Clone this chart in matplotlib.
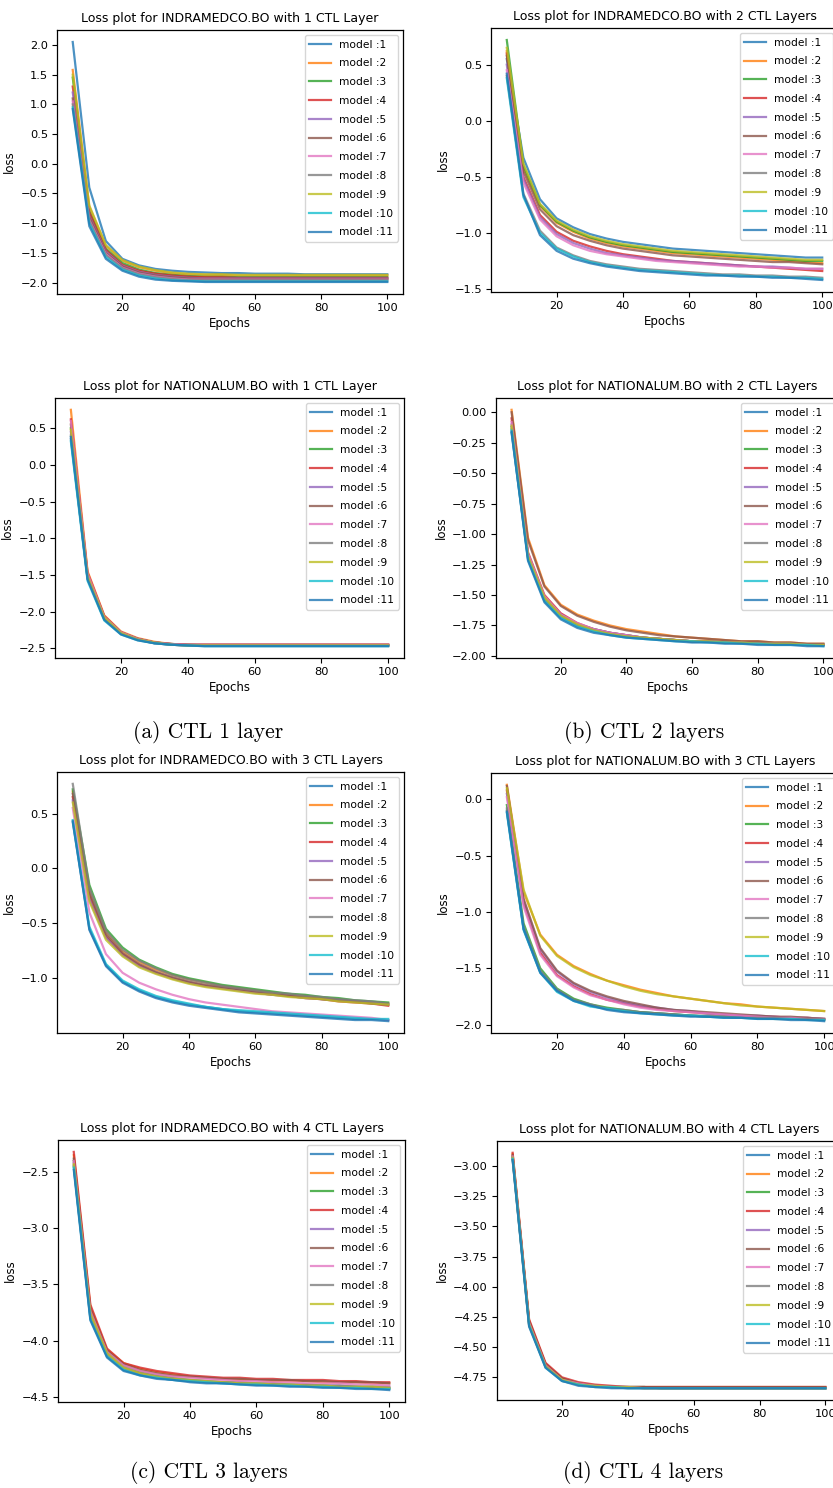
import matplotlib
matplotlib.use("Agg")
import matplotlib.pyplot as plt

W, H = 833, 1488
DPI = 100

epochs = [5, 10, 15, 20, 25, 30, 35, 40, 45, 50, 55, 60, 65, 70, 75, 80, 85, 90, 95, 100]
model_labels = ["model :1", "model :2", "model :3", "model :4", "model :5", "model :6",
                "model :7", "model :8", "model :9", "model :10", "model :11"]

titles = [
    "Loss plot for INDRAMEDCO.BO with 1 CTL Layer",
    "Loss plot for INDRAMEDCO.BO with 2 CTL Layers",
    "Loss plot for NATIONALUM.BO with 1 CTL Layer",
    "Loss plot for NATIONALUM.BO with 2 CTL Layers",
    "Loss plot for INDRAMEDCO.BO with 3 CTL Layers",
    "Loss plot for NATIONALUM.BO with 3 CTL Layers",
    "Loss plot for INDRAMEDCO.BO with 4 CTL Layers",
    "Loss plot for NATIONALUM.BO with 4 CTL Layers",
]
captions = ["(a) CTL 1 layer", "(b) CTL 2 layers", "(c) CTL 3 layers", "(d) CTL 4 layers"]

ind_1 = [
    [2.05, -0.40, -1.30, -1.60, -1.71, -1.77, -1.80, -1.82, -1.83, -1.84, -1.84, -1.85, -1.85, -1.85, -1.86, -1.86, -1.86, -1.86, -1.86, -1.86],
    [1.58, -0.72, -1.38, -1.63, -1.74, -1.80, -1.84, -1.86, -1.87, -1.87, -1.88, -1.88, -1.88, -1.88, -1.88, -1.88, -1.88, -1.88, -1.88, -1.88],
    [1.45, -0.80, -1.43, -1.67, -1.78, -1.84, -1.87, -1.89, -1.90, -1.90, -1.91, -1.91, -1.91, -1.91, -1.91, -1.91, -1.91, -1.91, -1.91, -1.91],
    [1.30, -0.82, -1.45, -1.70, -1.80, -1.85, -1.88, -1.90, -1.91, -1.91, -1.92, -1.92, -1.92, -1.92, -1.92, -1.92, -1.92, -1.92, -1.92, -1.92],
    [1.20, -0.88, -1.48, -1.72, -1.82, -1.87, -1.90, -1.92, -1.93, -1.93, -1.93, -1.93, -1.93, -1.93, -1.93, -1.93, -1.93, -1.93, -1.93, -1.93],
    [1.10, -0.90, -1.50, -1.73, -1.83, -1.88, -1.91, -1.93, -1.94, -1.94, -1.94, -1.94, -1.94, -1.94, -1.94, -1.94, -1.94, -1.94, -1.94, -1.94],
    [1.05, -0.95, -1.52, -1.75, -1.85, -1.90, -1.93, -1.95, -1.95, -1.95, -1.95, -1.95, -1.95, -1.95, -1.95, -1.95, -1.95, -1.95, -1.95, -1.95],
    [1.00, -0.97, -1.54, -1.76, -1.86, -1.91, -1.94, -1.96, -1.96, -1.96, -1.96, -1.96, -1.96, -1.96, -1.96, -1.96, -1.96, -1.96, -1.96, -1.96],
    [1.50, -0.70, -1.37, -1.62, -1.73, -1.79, -1.83, -1.85, -1.86, -1.86, -1.87, -1.87, -1.87, -1.87, -1.87, -1.87, -1.87, -1.87, -1.87, -1.87],
    [0.95, -1.00, -1.57, -1.78, -1.88, -1.93, -1.96, -1.97, -1.98, -1.98, -1.98, -1.98, -1.98, -1.98, -1.98, -1.98, -1.98, -1.98, -1.98, -1.98],
    [0.92, -1.05, -1.60, -1.80, -1.90, -1.95, -1.97, -1.98, -1.99, -1.99, -1.99, -1.99, -1.99, -1.99, -1.99, -1.99, -1.99, -1.99, -1.99, -1.99],
]

ind_2 = [
    [0.55, -0.33, -0.70, -0.87, -0.95, -1.01, -1.05, -1.08, -1.10, -1.12, -1.14, -1.15, -1.16, -1.17, -1.18, -1.19, -1.20, -1.21, -1.22, -1.22],
    [0.62, -0.42, -0.76, -0.91, -0.99, -1.05, -1.09, -1.12, -1.14, -1.16, -1.18, -1.19, -1.20, -1.21, -1.22, -1.23, -1.24, -1.25, -1.26, -1.27],
    [0.72, -0.40, -0.75, -0.90, -0.98, -1.04, -1.08, -1.11, -1.13, -1.15, -1.17, -1.18, -1.19, -1.20, -1.21, -1.22, -1.23, -1.24, -1.25, -1.25],
    [0.60, -0.50, -0.84, -0.99, -1.07, -1.12, -1.16, -1.19, -1.21, -1.23, -1.25, -1.26, -1.27, -1.28, -1.29, -1.30, -1.31, -1.32, -1.33, -1.34],
    [0.50, -0.52, -0.86, -1.01, -1.09, -1.14, -1.18, -1.20, -1.22, -1.24, -1.25, -1.26, -1.27, -1.28, -1.29, -1.30, -1.30, -1.31, -1.32, -1.32],
    [0.58, -0.45, -0.79, -0.94, -1.02, -1.07, -1.11, -1.14, -1.16, -1.18, -1.20, -1.21, -1.22, -1.23, -1.24, -1.25, -1.26, -1.26, -1.27, -1.28],
    [0.45, -0.55, -0.88, -1.03, -1.11, -1.16, -1.19, -1.21, -1.23, -1.25, -1.26, -1.27, -1.28, -1.29, -1.30, -1.30, -1.31, -1.31, -1.32, -1.32],
    [0.40, -0.65, -0.98, -1.13, -1.20, -1.25, -1.28, -1.30, -1.32, -1.33, -1.34, -1.35, -1.36, -1.37, -1.37, -1.38, -1.38, -1.39, -1.39, -1.40],
    [0.65, -0.38, -0.74, -0.89, -0.97, -1.03, -1.07, -1.10, -1.12, -1.14, -1.16, -1.17, -1.18, -1.19, -1.20, -1.21, -1.22, -1.23, -1.24, -1.24],
    [0.38, -0.68, -1.00, -1.14, -1.21, -1.26, -1.29, -1.31, -1.33, -1.34, -1.35, -1.36, -1.37, -1.38, -1.38, -1.39, -1.39, -1.40, -1.40, -1.41],
    [0.42, -0.66, -1.02, -1.16, -1.23, -1.27, -1.30, -1.32, -1.34, -1.35, -1.36, -1.37, -1.38, -1.38, -1.39, -1.39, -1.40, -1.40, -1.41, -1.42],
]

nat_1 = [
    [0.35, -1.55, -2.10, -2.30, -2.38, -2.43, -2.45, -2.46, -2.46, -2.46, -2.46, -2.46, -2.46, -2.46, -2.46, -2.46, -2.46, -2.46, -2.46, -2.46],
    [0.75, -1.45, -2.05, -2.27, -2.36, -2.41, -2.44, -2.45, -2.45, -2.45, -2.45, -2.45, -2.45, -2.45, -2.45, -2.45, -2.45, -2.45, -2.45, -2.45],
    [0.50, -1.52, -2.08, -2.29, -2.37, -2.42, -2.44, -2.45, -2.46, -2.46, -2.46, -2.46, -2.46, -2.46, -2.46, -2.46, -2.46, -2.46, -2.46, -2.46],
    [0.62, -1.47, -2.06, -2.28, -2.37, -2.42, -2.44, -2.45, -2.45, -2.45, -2.45, -2.45, -2.45, -2.45, -2.45, -2.45, -2.45, -2.45, -2.45, -2.45],
    [0.45, -1.53, -2.09, -2.29, -2.38, -2.42, -2.45, -2.46, -2.46, -2.46, -2.46, -2.46, -2.46, -2.46, -2.46, -2.46, -2.46, -2.46, -2.46, -2.46],
    [0.55, -1.50, -2.07, -2.28, -2.37, -2.42, -2.44, -2.45, -2.45, -2.45, -2.45, -2.45, -2.45, -2.45, -2.45, -2.45, -2.45, -2.45, -2.45, -2.45],
    [0.60, -1.48, -2.07, -2.28, -2.37, -2.42, -2.44, -2.45, -2.45, -2.45, -2.45, -2.45, -2.45, -2.45, -2.45, -2.45, -2.45, -2.45, -2.45, -2.45],
    [0.40, -1.55, -2.10, -2.30, -2.38, -2.43, -2.45, -2.46, -2.46, -2.46, -2.46, -2.46, -2.46, -2.46, -2.46, -2.46, -2.46, -2.46, -2.46, -2.46],
    [0.48, -1.52, -2.08, -2.29, -2.38, -2.42, -2.45, -2.46, -2.46, -2.46, -2.46, -2.46, -2.46, -2.46, -2.46, -2.46, -2.46, -2.46, -2.46, -2.46],
    [0.32, -1.58, -2.12, -2.31, -2.39, -2.43, -2.45, -2.46, -2.47, -2.47, -2.47, -2.47, -2.47, -2.47, -2.47, -2.47, -2.47, -2.47, -2.47, -2.47],
    [0.38, -1.56, -2.11, -2.31, -2.39, -2.43, -2.45, -2.46, -2.47, -2.47, -2.47, -2.47, -2.47, -2.47, -2.47, -2.47, -2.47, -2.47, -2.47, -2.47],
]

nat_2 = [
    [-0.17, -1.20, -1.54, -1.68, -1.75, -1.79, -1.82, -1.84, -1.85, -1.86, -1.87, -1.88, -1.88, -1.89, -1.89, -1.90, -1.90, -1.90, -1.91, -1.91],
    [0.02, -1.03, -1.42, -1.58, -1.66, -1.71, -1.75, -1.78, -1.80, -1.82, -1.84, -1.85, -1.86, -1.87, -1.88, -1.88, -1.89, -1.89, -1.90, -1.90],
    [-0.12, -1.18, -1.52, -1.66, -1.74, -1.78, -1.81, -1.83, -1.85, -1.86, -1.87, -1.88, -1.88, -1.89, -1.89, -1.90, -1.90, -1.90, -1.91, -1.91],
    [-0.05, -1.15, -1.50, -1.65, -1.73, -1.78, -1.81, -1.83, -1.85, -1.86, -1.87, -1.88, -1.88, -1.89, -1.89, -1.90, -1.90, -1.90, -1.91, -1.91],
    [-0.10, -1.17, -1.52, -1.66, -1.74, -1.78, -1.81, -1.83, -1.85, -1.86, -1.87, -1.88, -1.88, -1.89, -1.89, -1.90, -1.90, -1.90, -1.91, -1.91],
    [0.00, -1.05, -1.43, -1.59, -1.67, -1.72, -1.76, -1.79, -1.81, -1.83, -1.84, -1.85, -1.86, -1.87, -1.88, -1.88, -1.89, -1.89, -1.90, -1.90],
    [-0.08, -1.16, -1.51, -1.66, -1.73, -1.78, -1.81, -1.83, -1.85, -1.86, -1.87, -1.88, -1.88, -1.89, -1.89, -1.90, -1.90, -1.90, -1.91, -1.91],
    [-0.14, -1.19, -1.53, -1.67, -1.75, -1.79, -1.82, -1.84, -1.85, -1.86, -1.87, -1.88, -1.88, -1.89, -1.89, -1.90, -1.90, -1.90, -1.91, -1.91],
    [-0.11, -1.18, -1.52, -1.67, -1.74, -1.79, -1.82, -1.84, -1.85, -1.86, -1.87, -1.88, -1.88, -1.89, -1.89, -1.90, -1.90, -1.90, -1.91, -1.91],
    [-0.15, -1.21, -1.55, -1.69, -1.76, -1.80, -1.83, -1.85, -1.86, -1.87, -1.88, -1.88, -1.89, -1.89, -1.90, -1.90, -1.91, -1.91, -1.91, -1.92],
    [-0.16, -1.22, -1.56, -1.70, -1.77, -1.81, -1.83, -1.85, -1.86, -1.87, -1.88, -1.89, -1.89, -1.90, -1.90, -1.91, -1.91, -1.91, -1.92, -1.92],
]

ind_3 = [
    [0.42, -0.55, -0.88, -1.03, -1.11, -1.17, -1.21, -1.24, -1.26, -1.28, -1.30, -1.31, -1.32, -1.33, -1.34, -1.35, -1.36, -1.37, -1.37, -1.38],
    [0.70, -0.20, -0.58, -0.75, -0.85, -0.92, -0.97, -1.01, -1.04, -1.07, -1.09, -1.11, -1.13, -1.15, -1.16, -1.18, -1.19, -1.21, -1.22, -1.23],
    [0.72, -0.15, -0.55, -0.72, -0.83, -0.90, -0.96, -1.00, -1.03, -1.06, -1.08, -1.10, -1.12, -1.14, -1.15, -1.17, -1.18, -1.20, -1.21, -1.22],
    [0.65, -0.25, -0.62, -0.78, -0.88, -0.95, -1.00, -1.04, -1.07, -1.09, -1.11, -1.13, -1.15, -1.16, -1.18, -1.19, -1.21, -1.22, -1.23, -1.25],
    [0.62, -0.28, -0.63, -0.79, -0.89, -0.95, -1.00, -1.04, -1.07, -1.09, -1.11, -1.13, -1.15, -1.16, -1.18, -1.19, -1.20, -1.21, -1.22, -1.24],
    [0.68, -0.22, -0.60, -0.77, -0.87, -0.94, -0.99, -1.03, -1.06, -1.08, -1.10, -1.12, -1.14, -1.16, -1.17, -1.19, -1.20, -1.21, -1.23, -1.24],
    [0.55, -0.40, -0.78, -0.95, -1.04, -1.10, -1.15, -1.19, -1.22, -1.24, -1.26, -1.28, -1.30, -1.31, -1.32, -1.33, -1.34, -1.35, -1.36, -1.38],
    [0.77, -0.18, -0.57, -0.74, -0.84, -0.91, -0.97, -1.01, -1.04, -1.07, -1.09, -1.11, -1.13, -1.14, -1.16, -1.17, -1.19, -1.20, -1.21, -1.23],
    [0.60, -0.30, -0.65, -0.80, -0.90, -0.96, -1.01, -1.05, -1.08, -1.10, -1.12, -1.14, -1.15, -1.17, -1.18, -1.19, -1.21, -1.22, -1.23, -1.24],
    [0.44, -0.53, -0.87, -1.02, -1.10, -1.16, -1.20, -1.23, -1.26, -1.28, -1.29, -1.30, -1.31, -1.32, -1.33, -1.34, -1.35, -1.36, -1.37, -1.37],
    [0.43, -0.56, -0.89, -1.04, -1.12, -1.18, -1.22, -1.25, -1.27, -1.29, -1.31, -1.32, -1.33, -1.34, -1.35, -1.36, -1.37, -1.38, -1.38, -1.39],
]

nat_3 = [
    [-0.10, -1.15, -1.53, -1.70, -1.78, -1.83, -1.86, -1.88, -1.89, -1.90, -1.91, -1.92, -1.93, -1.93, -1.94, -1.94, -1.95, -1.95, -1.95, -1.96],
    [0.13, -0.82, -1.20, -1.38, -1.48, -1.55, -1.61, -1.65, -1.69, -1.72, -1.75, -1.77, -1.79, -1.81, -1.82, -1.84, -1.85, -1.86, -1.87, -1.88],
    [-0.05, -1.10, -1.50, -1.68, -1.77, -1.82, -1.85, -1.87, -1.89, -1.90, -1.91, -1.92, -1.93, -1.93, -1.94, -1.94, -1.95, -1.95, -1.95, -1.96],
    [0.08, -0.92, -1.36, -1.56, -1.66, -1.73, -1.78, -1.81, -1.84, -1.86, -1.88, -1.89, -1.90, -1.91, -1.92, -1.93, -1.93, -1.94, -1.94, -1.95],
    [0.05, -0.90, -1.33, -1.53, -1.64, -1.71, -1.76, -1.80, -1.83, -1.85, -1.87, -1.88, -1.90, -1.91, -1.92, -1.92, -1.93, -1.94, -1.94, -1.95],
    [0.12, -0.88, -1.32, -1.52, -1.63, -1.70, -1.75, -1.79, -1.82, -1.85, -1.87, -1.88, -1.89, -1.90, -1.91, -1.92, -1.93, -1.93, -1.94, -1.95],
    [0.02, -0.95, -1.38, -1.57, -1.67, -1.74, -1.78, -1.82, -1.85, -1.87, -1.88, -1.89, -1.90, -1.91, -1.92, -1.93, -1.94, -1.94, -1.95, -1.95],
    [-0.08, -1.13, -1.52, -1.69, -1.78, -1.82, -1.86, -1.87, -1.89, -1.90, -1.91, -1.92, -1.92, -1.93, -1.94, -1.94, -1.94, -1.95, -1.95, -1.95],
    [0.10, -0.80, -1.21, -1.39, -1.49, -1.56, -1.61, -1.66, -1.70, -1.73, -1.75, -1.77, -1.79, -1.81, -1.83, -1.84, -1.85, -1.86, -1.87, -1.88],
    [-0.12, -1.16, -1.54, -1.71, -1.79, -1.84, -1.86, -1.88, -1.90, -1.91, -1.92, -1.92, -1.93, -1.94, -1.94, -1.95, -1.95, -1.95, -1.96, -1.96],
    [-0.11, -1.15, -1.54, -1.70, -1.79, -1.83, -1.87, -1.89, -1.90, -1.91, -1.92, -1.93, -1.93, -1.94, -1.94, -1.95, -1.95, -1.96, -1.96, -1.97],
]

ind_4 = [
    [-2.45, -3.80, -4.14, -4.26, -4.30, -4.33, -4.35, -4.36, -4.37, -4.38, -4.38, -4.39, -4.39, -4.40, -4.40, -4.41, -4.41, -4.42, -4.42, -4.43],
    [-2.35, -3.70, -4.08, -4.20, -4.25, -4.28, -4.30, -4.32, -4.33, -4.34, -4.35, -4.35, -4.36, -4.36, -4.36, -4.37, -4.37, -4.37, -4.38, -4.38],
    [-2.40, -3.75, -4.10, -4.23, -4.28, -4.31, -4.33, -4.35, -4.36, -4.37, -4.37, -4.38, -4.38, -4.39, -4.39, -4.40, -4.40, -4.41, -4.41, -4.42],
    [-2.32, -3.68, -4.07, -4.20, -4.24, -4.27, -4.29, -4.31, -4.32, -4.33, -4.33, -4.34, -4.34, -4.35, -4.35, -4.35, -4.36, -4.36, -4.37, -4.37],
    [-2.42, -3.77, -4.11, -4.24, -4.29, -4.32, -4.34, -4.35, -4.36, -4.37, -4.38, -4.38, -4.39, -4.39, -4.40, -4.40, -4.40, -4.41, -4.41, -4.41],
    [-2.38, -3.72, -4.09, -4.21, -4.26, -4.29, -4.31, -4.32, -4.33, -4.34, -4.34, -4.35, -4.35, -4.35, -4.36, -4.36, -4.37, -4.37, -4.37, -4.38],
    [-2.40, -3.74, -4.10, -4.22, -4.27, -4.30, -4.32, -4.33, -4.34, -4.35, -4.36, -4.36, -4.37, -4.37, -4.38, -4.38, -4.38, -4.39, -4.39, -4.40],
    [-2.44, -3.78, -4.12, -4.25, -4.29, -4.32, -4.34, -4.36, -4.37, -4.37, -4.38, -4.39, -4.39, -4.40, -4.40, -4.40, -4.41, -4.41, -4.42, -4.42],
    [-2.43, -3.76, -4.11, -4.24, -4.29, -4.32, -4.34, -4.35, -4.36, -4.37, -4.38, -4.38, -4.39, -4.39, -4.40, -4.40, -4.41, -4.41, -4.41, -4.42],
    [-2.46, -3.81, -4.14, -4.26, -4.31, -4.33, -4.35, -4.36, -4.37, -4.38, -4.39, -4.39, -4.40, -4.40, -4.41, -4.41, -4.42, -4.42, -4.43, -4.43],
    [-2.48, -3.82, -4.15, -4.27, -4.31, -4.34, -4.35, -4.37, -4.38, -4.38, -4.39, -4.40, -4.40, -4.41, -4.41, -4.42, -4.42, -4.43, -4.43, -4.44],
]

nat_4 = [
    [-2.93, -4.30, -4.65, -4.77, -4.80, -4.82, -4.83, -4.83, -4.83, -4.84, -4.84, -4.84, -4.84, -4.84, -4.84, -4.84, -4.84, -4.84, -4.84, -4.84],
    [-2.90, -4.28, -4.64, -4.76, -4.80, -4.82, -4.83, -4.83, -4.83, -4.83, -4.83, -4.83, -4.83, -4.83, -4.83, -4.83, -4.83, -4.83, -4.83, -4.83],
    [-2.92, -4.29, -4.64, -4.76, -4.80, -4.82, -4.83, -4.83, -4.83, -4.84, -4.84, -4.84, -4.84, -4.84, -4.84, -4.84, -4.84, -4.84, -4.84, -4.84],
    [-2.89, -4.27, -4.63, -4.75, -4.79, -4.81, -4.82, -4.83, -4.83, -4.83, -4.83, -4.83, -4.83, -4.83, -4.83, -4.83, -4.83, -4.83, -4.83, -4.83],
    [-2.94, -4.31, -4.66, -4.77, -4.81, -4.82, -4.83, -4.83, -4.84, -4.84, -4.84, -4.84, -4.84, -4.84, -4.84, -4.84, -4.84, -4.84, -4.84, -4.84],
    [-2.91, -4.29, -4.65, -4.76, -4.80, -4.82, -4.83, -4.83, -4.83, -4.83, -4.83, -4.83, -4.83, -4.83, -4.83, -4.83, -4.83, -4.83, -4.83, -4.83],
    [-2.92, -4.30, -4.65, -4.77, -4.80, -4.82, -4.83, -4.83, -4.84, -4.84, -4.84, -4.84, -4.84, -4.84, -4.84, -4.84, -4.84, -4.84, -4.84, -4.84],
    [-2.95, -4.32, -4.66, -4.78, -4.81, -4.83, -4.83, -4.84, -4.84, -4.84, -4.84, -4.84, -4.84, -4.84, -4.84, -4.84, -4.84, -4.84, -4.84, -4.84],
    [-2.93, -4.31, -4.66, -4.77, -4.81, -4.82, -4.83, -4.83, -4.84, -4.84, -4.84, -4.84, -4.84, -4.84, -4.84, -4.84, -4.84, -4.84, -4.84, -4.84],
    [-2.94, -4.32, -4.67, -4.78, -4.81, -4.83, -4.83, -4.84, -4.84, -4.84, -4.84, -4.84, -4.84, -4.84, -4.84, -4.84, -4.84, -4.84, -4.84, -4.84],
    [-2.95, -4.33, -4.67, -4.78, -4.82, -4.83, -4.84, -4.84, -4.84, -4.84, -4.84, -4.84, -4.84, -4.84, -4.84, -4.84, -4.84, -4.84, -4.84, -4.84],
]

panel_data = [ind_1, ind_2, nat_1, nat_2, ind_3, nat_3, ind_4, nat_4]

# axes boxes in pixels: (left, top, right, bottom)
boxes = [
    (57, 30, 403, 294), (491, 28, 838, 292),
    (55, 398, 404, 658), (496, 398, 839, 658),
    (57, 772, 404, 1033), (491, 773, 840, 1033),
    (58, 1140, 405, 1402), (497, 1141, 841, 1400),
]
caption_pos = [(208, 732), (644, 732), (209, 1473), (643, 1473)]

colors = plt.rcParams['axes.prop_cycle'].by_key()['color']

fig = plt.figure(figsize=(W / DPI, H / DPI), dpi=DPI)
fig.patch.set_facecolor("white")

for i, (data, title, box) in enumerate(zip(panel_data, titles, boxes)):
    l, t, r, b = box
    ax = fig.add_axes([l / W, 1 - b / H, (r - l) / W, (b - t) / H])
    for j, series in enumerate(data):
        ax.plot(epochs, series, color=colors[j % len(colors)], alpha=0.8, lw=1.6,
                label=model_labels[j])
    ax.set_xticks([20, 40, 60, 80, 100])
    ax.tick_params(labelsize=8.2, length=3.5, width=0.8, pad=3)
    ax.set_title(title, fontsize=9, pad=6)
    ax.set_xlabel("Epochs", fontsize=8.5, labelpad=3)
    ax.set_ylabel("loss", fontsize=8.5, labelpad=3)
    for s in ax.spines.values():
        s.set_linewidth(0.9)
    ax.legend(loc="upper right", fontsize=7.7, labelspacing=0.82, handlelength=2.0,
              borderaxespad=0.5)

for cap, (x, y) in zip(captions, caption_pos):
    fig.text(x / W, 1 - y / H, cap, fontsize=15.5, family="cmr10", ha="center", va="center")

fig.savefig("out.png", dpi=DPI, facecolor="white")
